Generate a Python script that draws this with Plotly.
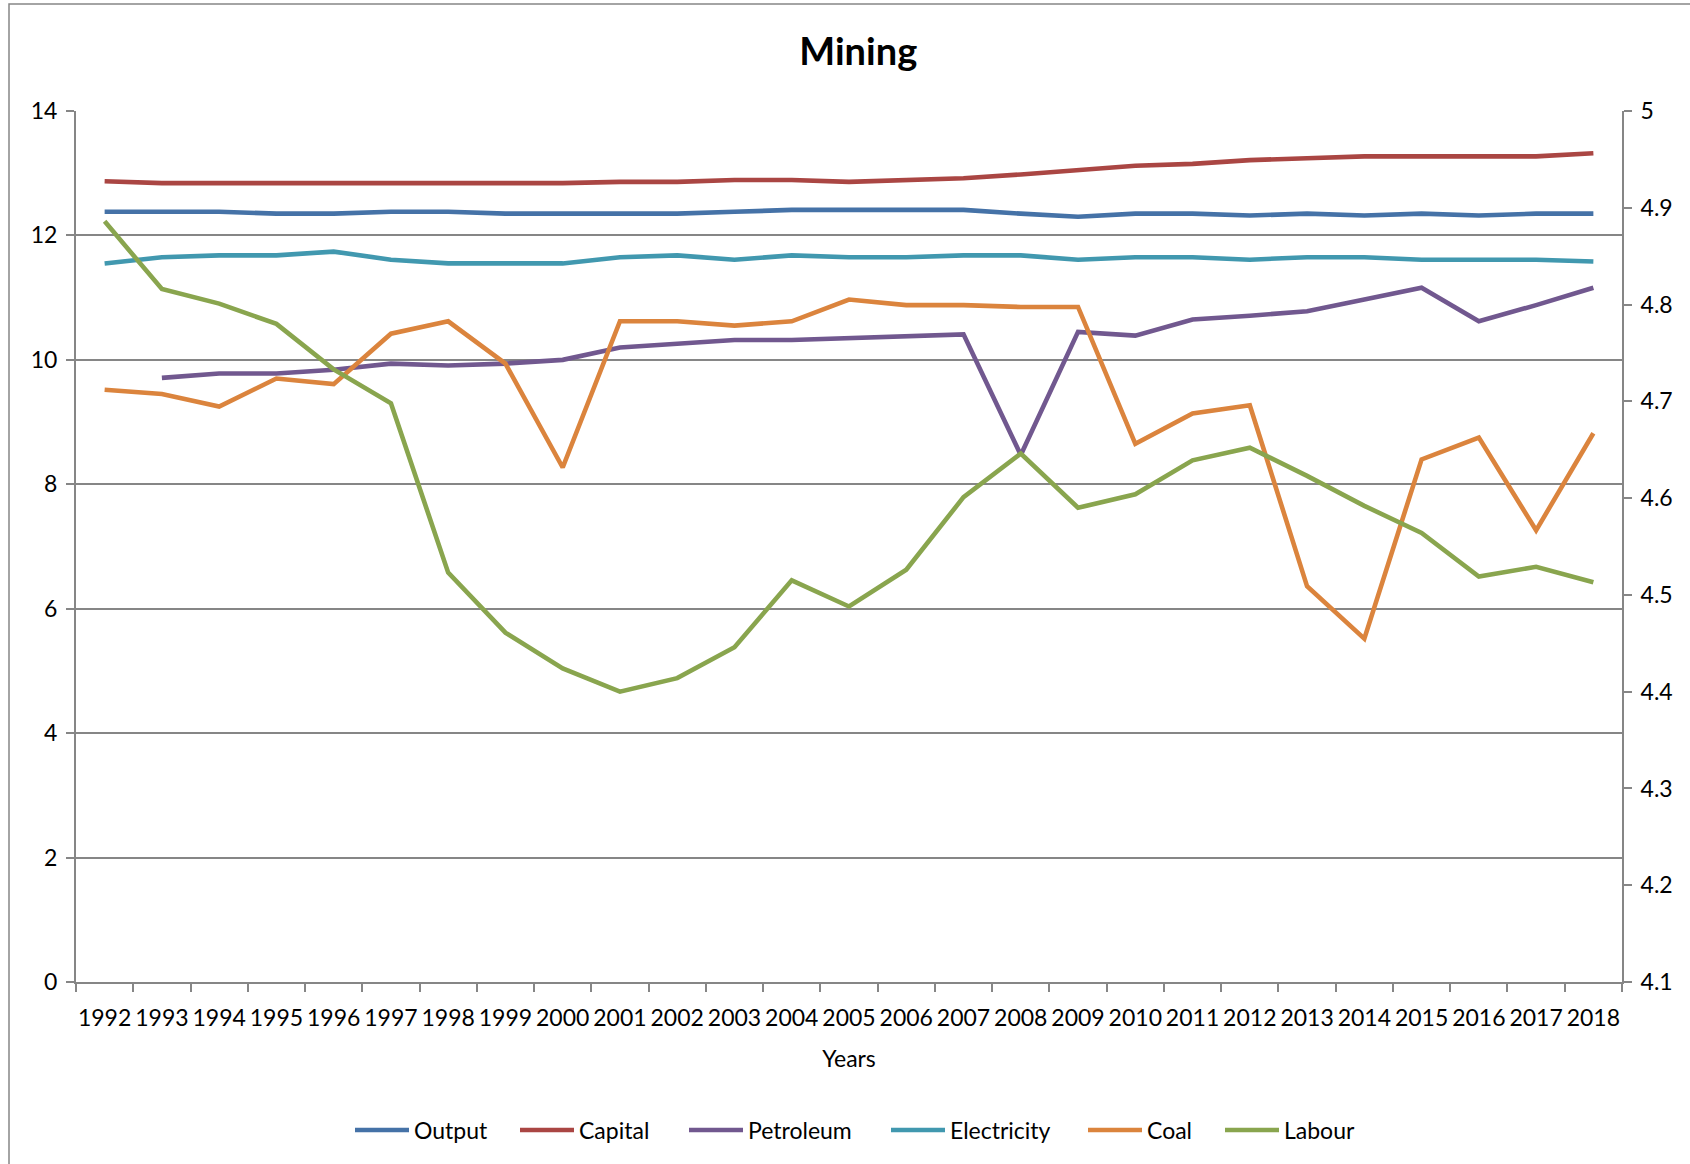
import plotly.graph_objects as go

# Mining: log levels of output and inputs, 1992-2018
years = [str(y) for y in range(1992, 2019)]

output = [12.38, 12.38, 12.38, 12.35, 12.35, 12.38, 12.38, 12.35, 12.35, 12.35,
          12.35, 12.38, 12.41, 12.41, 12.41, 12.41, 12.35, 12.30, 12.35, 12.35,
          12.32, 12.35, 12.32, 12.35, 12.32, 12.35, 12.35]

capital = [12.87, 12.84, 12.84, 12.84, 12.83, 12.84, 12.84, 12.84, 12.84, 12.86,
           12.86, 12.89, 12.89, 12.86, 12.89, 12.92, 12.98, 13.05, 13.12, 13.15,
           13.21, 13.24, 13.27, 13.27, 13.27, 13.27, 13.32]

# petroleum series starts in 1993
petroleum_years = years[1:]
petroleum = [9.71, 9.78, 9.78, 9.84, 9.94, 9.91, 9.94, 10.00, 10.20, 10.26,
             10.32, 10.32, 10.35, 10.38, 10.41, 8.47, 10.45, 10.39, 10.65, 10.71,
             10.78, 10.97, 11.16, 10.62, 10.88, 11.16]

electricity = [11.55, 11.65, 11.68, 11.68, 11.74, 11.61, 11.55, 11.55, 11.55, 11.65,
               11.68, 11.61, 11.68, 11.65, 11.65, 11.68, 11.68, 11.61, 11.65, 11.65,
               11.61, 11.65, 11.65, 11.61, 11.61, 11.61, 11.58]

coal = [9.52, 9.45, 9.25, 9.70, 9.61, 10.42, 10.62, 9.94, 8.27, 10.62,
        10.62, 10.55, 10.62, 10.97, 10.88, 10.88, 10.85, 10.85, 8.65, 9.14,
        9.27, 6.36, 5.52, 8.40, 8.75, 7.26, 8.82]

# labour is plotted against the secondary (right) axis
labour = [4.886, 4.816, 4.801, 4.780, 4.733, 4.698, 4.523, 4.461, 4.424, 4.400,
          4.414, 4.446, 4.515, 4.488, 4.526, 4.601, 4.646, 4.590, 4.604, 4.639,
          4.652, 4.623, 4.592, 4.564, 4.519, 4.529, 4.513]

left_ticks = [0, 2, 4, 6, 8, 10, 12, 14]
right_ticks = [4.1, 4.2, 4.3, 4.4, 4.5, 4.6, 4.7, 4.8, 4.9, 5.0]
right_tick_text = ["4.1", "4.2", "4.3", "4.4", "4.5", "4.6", "4.7", "4.8", "4.9", "5"]

FONT = "Lato, 'Open Sans', sans-serif"
AXIS_GREY = "#868686"
LW = 4.6

W, H = 1690, 1164
L, R, T, B = 76, 68, 111, 182
plot_w = W - L - R
plot_h = H - T - B

# (name, x, y, colour, y-axis, legend key left edge in px)
series = [
    ("Output", years, output, "#4572A7", "y", 356),
    ("Capital", years, capital, "#AA4643", "y", 521),
    ("Petroleum", petroleum_years, petroleum, "#71588F", "y", 690),
    ("Electricity", years, electricity, "#4198AF", "y", 892),
    ("Coal", years, coal, "#DB843D", "y", 1089),
    ("Labour", years, labour, "#89A54E", "y2", 1226),
]

legend_y = -(1130 - (T + plot_h)) / plot_h

fig = go.Figure()
legend_layouts = {}
for i, (name, xs, ys, color, axis, key_x) in enumerate(series):
    legend_id = "legend" if i == 0 else f"legend{i + 1}"
    fig.add_trace(go.Scatter(
        x=xs, y=ys, name=name, mode="lines", yaxis=axis,
        line=dict(color=color, width=LW), legend=legend_id, showlegend=True,
    ))
    legend_layouts[legend_id] = dict(
        orientation="h", x=(key_x - 6 - L) / plot_w, xanchor="left",
        y=legend_y, yanchor="middle", font=dict(family=FONT, size=23),
        itemwidth=54, bgcolor="rgba(0,0,0,0)",
    )

fig.update_layout(
    width=W, height=H,
    margin=dict(l=L, r=R, t=T, b=B, autoexpand=False),
    paper_bgcolor="white", plot_bgcolor="white",
    font=dict(family=FONT, size=23, color="black"),
    title=dict(text="<b>Mining</b>", x=0.506, xref="paper", xanchor="center",
               y=1 - 52 / H, yanchor="middle",
               font=dict(family=FONT, size=38, color="black")),
    showlegend=True,
    xaxis=dict(
        type="category", categoryorder="array", categoryarray=years,
        tickson="boundaries", ticks="outside", ticklen=8, tickcolor=AXIS_GREY,
        tickwidth=1.5, showgrid=False, showline=True, linecolor=AXIS_GREY,
        linewidth=2, tickangle=0, ticklabelstandoff=14,
        tickfont=dict(family=FONT, size=23),
        title=dict(text="Years", standoff=21, font=dict(family=FONT, size=23)),
        range=[-0.5, 26.5], fixedrange=True,
    ),
    yaxis=dict(
        range=[0, 14], tickvals=left_ticks, ticks="outside", ticklen=8,
        tickcolor=AXIS_GREY, tickwidth=1.5, showgrid=True, gridcolor=AXIS_GREY,
        gridwidth=2, showline=True, linecolor=AXIS_GREY, linewidth=2,
        zeroline=False, ticklabelstandoff=4, tickfont=dict(family=FONT, size=23),
        fixedrange=True,
    ),
    yaxis2=dict(
        range=[4.1, 5.0], tickvals=right_ticks, ticktext=right_tick_text,
        overlaying="y", side="right", ticks="outside", ticklen=8,
        tickcolor=AXIS_GREY, tickwidth=1.5, showgrid=False, showline=True,
        linecolor=AXIS_GREY, linewidth=2, zeroline=False, ticklabelstandoff=4,
        tickfont=dict(family=FONT, size=23), fixedrange=True,
    ),
    **legend_layouts,
)

# chart-area frame (left and top edges fall inside the page)
fig.add_shape(type="rect", xref="paper", yref="paper",
              x0=(9 - L) / plot_w, x1=(W + 20 - L) / plot_w,
              y0=(T + plot_h - 4) / plot_h, y1=-(H + 20 - T - plot_h) / plot_h,
              line=dict(color=AXIS_GREY, width=1.5), fillcolor="rgba(0,0,0,0)",
              layer="below")

fig.write_html("out.html", config={"displayModeBar": False})
